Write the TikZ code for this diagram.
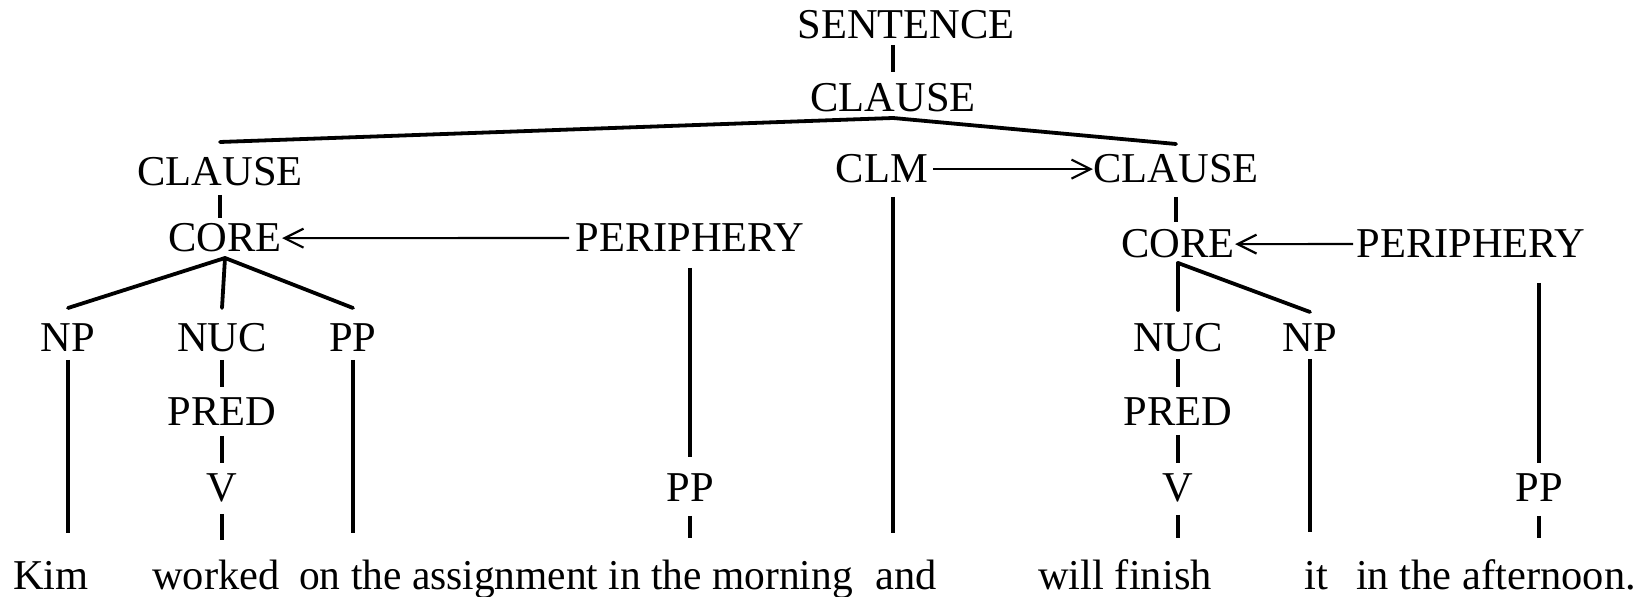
\documentclass[tikz,border=0pt]{standalone}
\usepackage{fontspec}
\setmainfont{Liberation Serif}
\usetikzlibrary{arrows.meta}
\begin{document}
\begin{tikzpicture}[x=0.5pt,y=-0.5pt,
  lbl/.style={inner sep=0pt, anchor=base, font=\fontsize{21.25}{25}\selectfont},
  vline/.style={line width=1.6pt},
  branch/.style={line width=1.9pt, line cap=round, line join=round},
  arr/.style={line width=1.1pt, -{Straight Barb[length=9.5pt,width=9.5pt,line width=1.1pt]}}]
\useasboundingbox[fill=white] (0,0) rectangle (1648,597);
% labels
\node[lbl] (sent) at (906,39) {SENTENCE};
\node[lbl] (cl0) at (893,112) {CLAUSE};
\node[lbl] (cl1) at (220,186) {CLAUSE};
\node[lbl] (clm) at (882,183) {CLM};
\node[lbl] (cl2) at (1176,183) {CLAUSE};
\node[lbl] (core1) at (225,252) {CORE};
\node[lbl] (per1) at (690,252) {PERIPHERY};
\node[lbl] (core2) at (1178,258) {CORE};
\node[lbl] (per2) at (1471,258) {PERIPHERY};
\node[lbl] (np1) at (68,352) {NP};
\node[lbl] (nuc1) at (222,352) {NUC};
\node[lbl] (pp1) at (353,352) {PP};
\node[lbl] (nuc2) at (1178,352) {NUC};
\node[lbl] (np2) at (1310,352) {NP};
\node[lbl] (pred1) at (222,426) {PRED};
\node[lbl] (pred2) at (1178,426) {PRED};
\node[lbl] (v1) at (222,502) {V};
\node[lbl] (pp2) at (690,502) {PP};
\node[lbl] (v2) at (1178,502) {V};
\node[lbl] (pp3) at (1539,502) {PP};
\node[lbl] (w1) at (51,590) {Kim};
\node[lbl] (w2) at (216,590) {worked};
\node[lbl] (w3) at (576,590) {\scalebox{0.975}[1]{on the assignment in the morning}};
\node[lbl] (w4) at (906,590) {and};
\node[lbl] (w5) at (1125,590) {will finish};
\node[lbl] (w6) at (1316,590) {it};
\node[lbl] (w7) at (1496,590) {in the afternoon.};
% top
\draw[vline, shorten <=3pt, shorten >=20pt] (cl0.base |- sent.base) -- (cl0.base);
\draw[branch] ([yshift=22pt]cl1.base) -- ([yshift=-3pt]cl0.base) -- ([yshift=19.5pt]cl2.base);
% left clause
\draw[vline, shorten <=4.5pt, shorten >=17pt] (cl1.base) -- (cl1.base |- core1.base);
\draw[arr, shorten <=3pt] (per1.west) -- (core1.east);
\draw[branch] ([yshift=-3pt]core1.base) -- ([yshift=22pt]np1.base);
\draw[branch] ([yshift=-3pt]core1.base) -- ([yshift=22pt]nuc1.base);
\draw[branch] ([yshift=-3pt]core1.base) -- ([yshift=22pt]pp1.base);
\draw[vline, shorten <=4pt, shorten >=28.5pt] (np1.base) -- (np1.base |- w1.base);
\draw[vline, shorten <=4pt, shorten >=19.5pt] (nuc1.base) -- (pred1.base);
\draw[vline, shorten <=5pt, shorten >=19.5pt] (pred1.base) -- (v1.base);
\draw[vline, shorten <=6pt, shorten >=25pt] (v1.base) -- (v1.base |- w2.base);
\draw[vline, shorten <=4pt, shorten >=28.5pt] (pp1.base) -- (pp1.base |- w3.base);
\draw[vline, shorten <=8pt, shorten >=22.5pt] (per1.base) -- (pp2.base);
\draw[vline, shorten <=7pt, shorten >=26pt] (pp2.base) -- (pp2.base |- w3.base);
% clm
\draw[vline, shorten <=7pt, shorten >=28.5pt] (cl0.base |- clm.base) -- (cl0.base |- w4.base);
\draw[arr, shorten <=2.5pt] (clm.east) -- (cl2.west);
% right clause
\draw[vline, shorten <=7pt, shorten >=18pt] (cl2.base) -- (cl2.base |- core2.base);
\draw[arr, shorten <=1.5pt] (per2.west) -- (core2.east);
\draw[branch] ([yshift=-2.5pt]core2.base) -- ([yshift=21pt]nuc2.base);
\draw[branch] ([yshift=-2.5pt]core2.base) -- ([yshift=20pt]np2.base);
\draw[vline, shorten <=3.5pt, shorten >=19.5pt] (nuc2.base) -- (pred2.base);
\draw[vline, shorten <=4.5pt, shorten >=19.5pt] (pred2.base) -- (v2.base);
\draw[vline, shorten <=6.5pt, shorten >=26pt] (v2.base) -- (v2.base |- w5.base);
\draw[vline, shorten <=3.5pt, shorten >=29pt] (np2.base) -- (np2.base |- w6.base);
\draw[vline, shorten <=12.5pt, shorten >=19.5pt] (pp3.base |- per2.base) -- (pp3.base);
\draw[vline, shorten <=7pt, shorten >=26pt] (pp3.base) -- (pp3.base |- w7.base);
\end{tikzpicture}
\end{document}
